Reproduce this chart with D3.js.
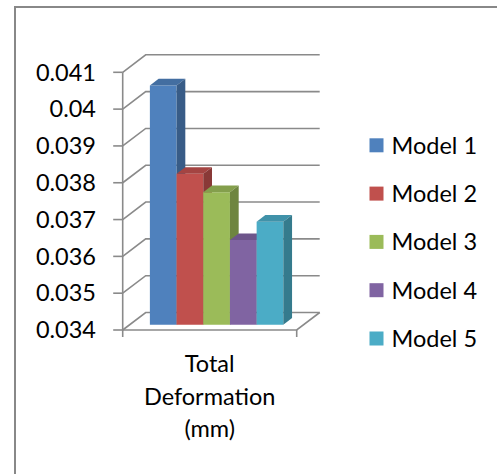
<!DOCTYPE html>
<html lang="en">
<head>
    <meta charset="UTF-8">
    <title>total deformation</title>
    <script src="https://d3js.org/d3.v7.min.js"></script>
    <style>
    html, body {
        margin: 0;
        padding: 0;
        background: #fff;
    }
    text {
        font-family: Lato, "Open Sans", sans-serif;
        fill: #000;
    }
    </style>
</head>
<body>
<div id="chart"></div>
<script>

    // data
    var categories = ["Total Deformation (mm)"];
    var categoryLines = ["Total", "Deformation", "(mm)"];
    var models = ["Model 1", "Model 2", "Model 3", "Model 4", "Model 5"];
    var values = [0.0405, 0.0381, 0.0376, 0.0363, 0.0368];
    var yTicks = [0.034, 0.035, 0.036, 0.037, 0.038, 0.039, 0.04, 0.041];
    var colors = ["#4F81BD", "#C0504D", "#9BBB59", "#8064A2", "#4BACC6"];

    var width = 497, height = 474;

    // front plane of the 3d box
    var plotLeft = 122.7, plotRight = 296.7, plotBottom = 330, plotTop = 72.3;
    // depth offset of the back wall
    var DX = 23, DY = 17.5;
    var d0 = 0.3, d1 = 0.68;   // bar depth range
    var gridColor = "#8a8a8a";
    var fontSize = "23.5px";

    var y = d3.scaleLinear().domain([0.034, 0.041]).range([plotBottom, plotTop]);
    var xCat = d3.scaleBand().domain(categories).range([plotLeft, plotRight]);
    var xModel = d3.scaleBand().domain(models)
        .range([0, xCat.bandwidth()]).paddingInner(0).paddingOuter(0.76);
    var color = d3.scaleOrdinal().domain(models).range(colors);

    function p(x, yy, d) {
        return [x + d * DX, yy - d * DY];
    }
    function poly(pts) {
        return pts.map(function(q) { return q.join(","); }).join(" ");
    }

    var svg = d3.select("#chart").append("svg")
        .attr("width", width)
        .attr("height", height);

    // chart frame (only the top and left edges are in view)
    svg.append("path")
        .attr("d", "M15," + (height + 5) + "V7H" + (width + 5))
        .attr("fill", "none")
        .attr("stroke", "#888")
        .attr("stroke-width", 2);

    var grid = svg.append("g")
        .attr("stroke", gridColor)
        .attr("stroke-width", 1.6)
        .attr("fill", "none");

    // back wall lines and left wall diagonals
    yTicks.forEach(function(t) {
        var a = p(plotLeft, y(t), 0), b = p(plotLeft, y(t), 1), c = p(plotRight, y(t), 1);
        grid.append("polyline").attr("points", poly([a, b, c]));
        grid.append("line")
            .attr("x1", plotLeft - 9.5).attr("x2", plotLeft)
            .attr("y1", y(t)).attr("y2", y(t));
    });

    // floor front edge and right diagonal
    var f0 = p(plotLeft, y(0.034), 0), f1 = p(plotRight, y(0.034), 0), f2 = p(plotRight, y(0.034), 1);
    grid.append("polyline").attr("points", poly([f0, f1, f2]));
    // front value axis
    grid.append("line")
        .attr("x1", plotLeft).attr("x2", plotLeft)
        .attr("y1", y(0.041)).attr("y2", y(0.034));
    // category ticks
    [plotLeft, plotRight].forEach(function(xx) {
        grid.append("line")
            .attr("x1", xx).attr("x2", xx)
            .attr("y1", plotBottom).attr("y2", plotBottom + 7);
    });

    // y tick labels
    svg.append("g").selectAll("text").data(yTicks).enter().append("text")
        .attr("x", 96)
        .attr("y", function(d) { return y(d); })
        .attr("dy", "0.35em")
        .attr("text-anchor", "end")
        .style("font-size", fontSize)
        .text(function(d) { return d3.format("~g")(d); });

    // bars
    var bars = svg.append("g").selectAll("g").data(values).enter().append("g");
    bars.each(function(v, i) {
        var g = d3.select(this);
        var x0 = xCat(categories[0]) + xModel(models[i]);
        var x1 = x0 + xModel.bandwidth();
        var yv = y(v), yb = y(0.034);
        var c = d3.color(color(models[i]));
        // front
        g.append("polygon")
            .attr("points", poly([p(x0, yv, d0), p(x1, yv, d0), p(x1, yb, d0), p(x0, yb, d0)]))
            .attr("fill", c.formatHex());
        // top
        g.append("polygon")
            .attr("points", poly([p(x0, yv, d0), p(x1, yv, d0), p(x1, yv, d1), p(x0, yv, d1)]))
            .attr("fill", c.darker(0.45).formatHex());
        // side
        g.append("polygon")
            .attr("points", poly([p(x1, yv, d0), p(x1, yb, d0), p(x1, yb, d1), p(x1, yv, d1)]))
            .attr("fill", c.darker(0.95).formatHex());
    });

    // category label
    var cx = xCat(categories[0]) + xCat.bandwidth() / 2;
    svg.append("g").selectAll("text").data(categoryLines).enter().append("text")
        .attr("x", cx)
        .attr("y", function(d, i) { return 372 + i * 32.5; })
        .attr("text-anchor", "middle")
        .style("font-size", fontSize)
        .text(function(d) { return d; });

    // legend
    var legend = svg.append("g").selectAll("g").data(models).enter().append("g")
        .attr("transform", function(d, i) { return "translate(369.5," + (145.3 + i * 48.3) + ")"; });
    legend.append("rect")
        .attr("x", 0).attr("y", -7)
        .attr("width", 14).attr("height", 14)
        .attr("fill", function(d) { return color(d); });
    legend.append("text")
        .attr("x", 22)
        .attr("dy", "0.36em")
        .style("font-size", fontSize)
        .text(function(d) { return d; });

</script>
</body>
</html>
